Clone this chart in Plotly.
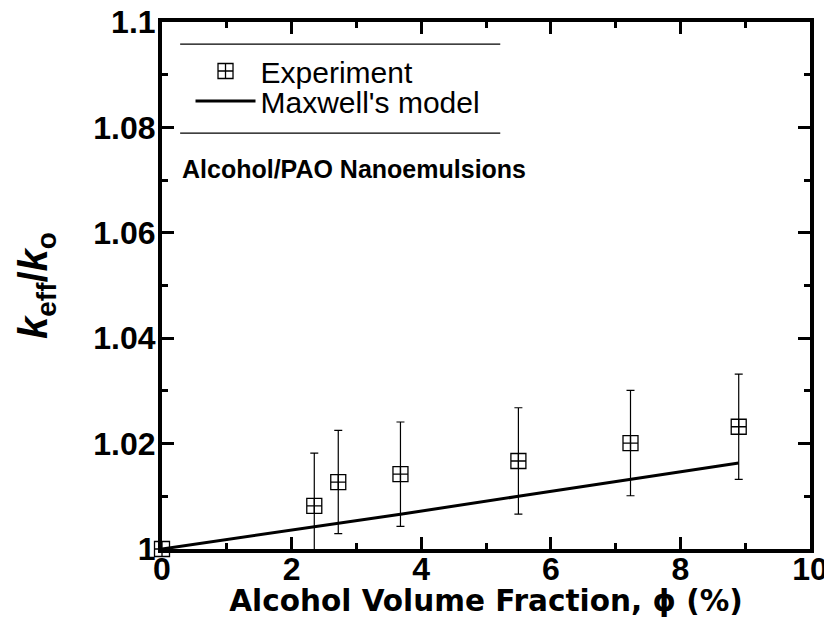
import plotly.graph_objects as go

# Experiment data
exp_x = [0.0, 2.35, 2.72, 3.68, 5.50, 7.23, 8.90]
exp_y = [1.0, 1.0082, 1.0127, 1.0142, 1.0167, 1.0201, 1.0232]
exp_err = [0.0, 0.0100, 0.0098, 0.0099, 0.0101, 0.0100, 0.0100]

# Maxwell's model
mx_x = [0.0, 2.35, 2.72, 3.68, 5.50, 7.23, 8.90]
mx_y = [1.0, 1.0042, 1.0049, 1.0066, 1.0100, 1.0132, 1.0163]

x_ticks = [0, 2, 4, 6, 8, 10]
y_ticks = [1.0, 1.02, 1.04, 1.06, 1.08, 1.1]
y_tick_labels = ["1", "1.02", "1.04", "1.06", "1.08", "1.1"]

FONT = "Liberation Sans, Arial, sans-serif"
WIDE = "DejaVu Sans, Liberation Sans, sans-serif"

fig = go.Figure()
fig.add_trace(go.Scatter(
    x=exp_x, y=exp_y, mode="markers", name="Experiment", legend="legend",
    marker=dict(symbol="square-cross-open", size=15, color="black", line=dict(width=1.3, color="black")),
    error_y=dict(type="data", array=exp_err, visible=True, color="black", thickness=1.2, width=4),
    cliponaxis=False,
))
fig.add_trace(go.Scatter(
    x=mx_x, y=mx_y, mode="lines", name="Maxwell's model", legend="legend2",
    line=dict(color="black", width=3),
))

axis_common = dict(
    showline=True, linecolor="black", linewidth=4, mirror="ticks",
    ticks="inside", ticklen=12, tickwidth=3, tickcolor="black",
    showgrid=False, zeroline=False, automargin=False,
    ticklabeloverflow="allow",
    tickfont=dict(family=FONT, size=32, color="black", weight="bold"),
)

fig.update_xaxes(
    range=[0, 10], tickvals=x_ticks, ticktext=[str(v) for v in x_ticks],
    ticklabelstandoff=-11,
    minor=dict(ticks="inside", ticklen=6, tickwidth=3, tickcolor="black", dtick=1, tick0=0),
    title=dict(text="Alcohol Volume Fraction, \u03d5 (%)", font=dict(family=WIDE, size=29.5, color="black", weight="bold"), standoff=12),
    **axis_common,
)
fig.update_yaxes(
    range=[1.0, 1.1], tickvals=y_ticks, ticktext=y_tick_labels,
    ticklabelstandoff=-4,
    minor=dict(ticks="inside", ticklen=6, tickwidth=3, tickcolor="black", dtick=0.01, tick0=1.0),
    title=dict(text="<i>k</i><sub>eff</sub>/<i>k</i><sub>o</sub>", font=dict(family=FONT, size=40, color="black", weight="bold"), standoff=34),
    **axis_common,
)

leg_common = dict(
    xanchor="left", yanchor="middle",
    bgcolor="rgba(0,0,0,0)", borderwidth=0,
    font=dict(family=FONT, size=30, color="black"),
    itemwidth=60, tracegroupgap=0,
)

# page body has an 8px margin: figure is sized/positioned so the plot area
# lands at x 162..810, y 22..549 in the window
fig.update_layout(
    width=824, height=610,
    margin=dict(l=154, r=22, t=14, b=69),
    plot_bgcolor="white", paper_bgcolor="white",
    showlegend=True,
    legend=dict(x=0.044, y=0.907, **leg_common),
    legend2=dict(x=0.044, y=0.850, **leg_common),
    shapes=[
        dict(type="line", xref="paper", yref="paper", x0=0.028, x1=0.522, y0=0.958, y1=0.958, line=dict(color="black", width=1.2)),
        dict(type="line", xref="paper", yref="paper", x0=0.028, x1=0.522, y0=0.789, y1=0.789, line=dict(color="black", width=1.2)),
    ],
    annotations=[
        dict(text="Alcohol/PAO Nanoemulsions", xref="paper", yref="paper", x=0.028, y=0.722,
             xanchor="left", yanchor="middle", showarrow=False,
             font=dict(family=FONT, size=25, color="black", weight="bold")),
    ],
)

fig.write_html("out.html")
